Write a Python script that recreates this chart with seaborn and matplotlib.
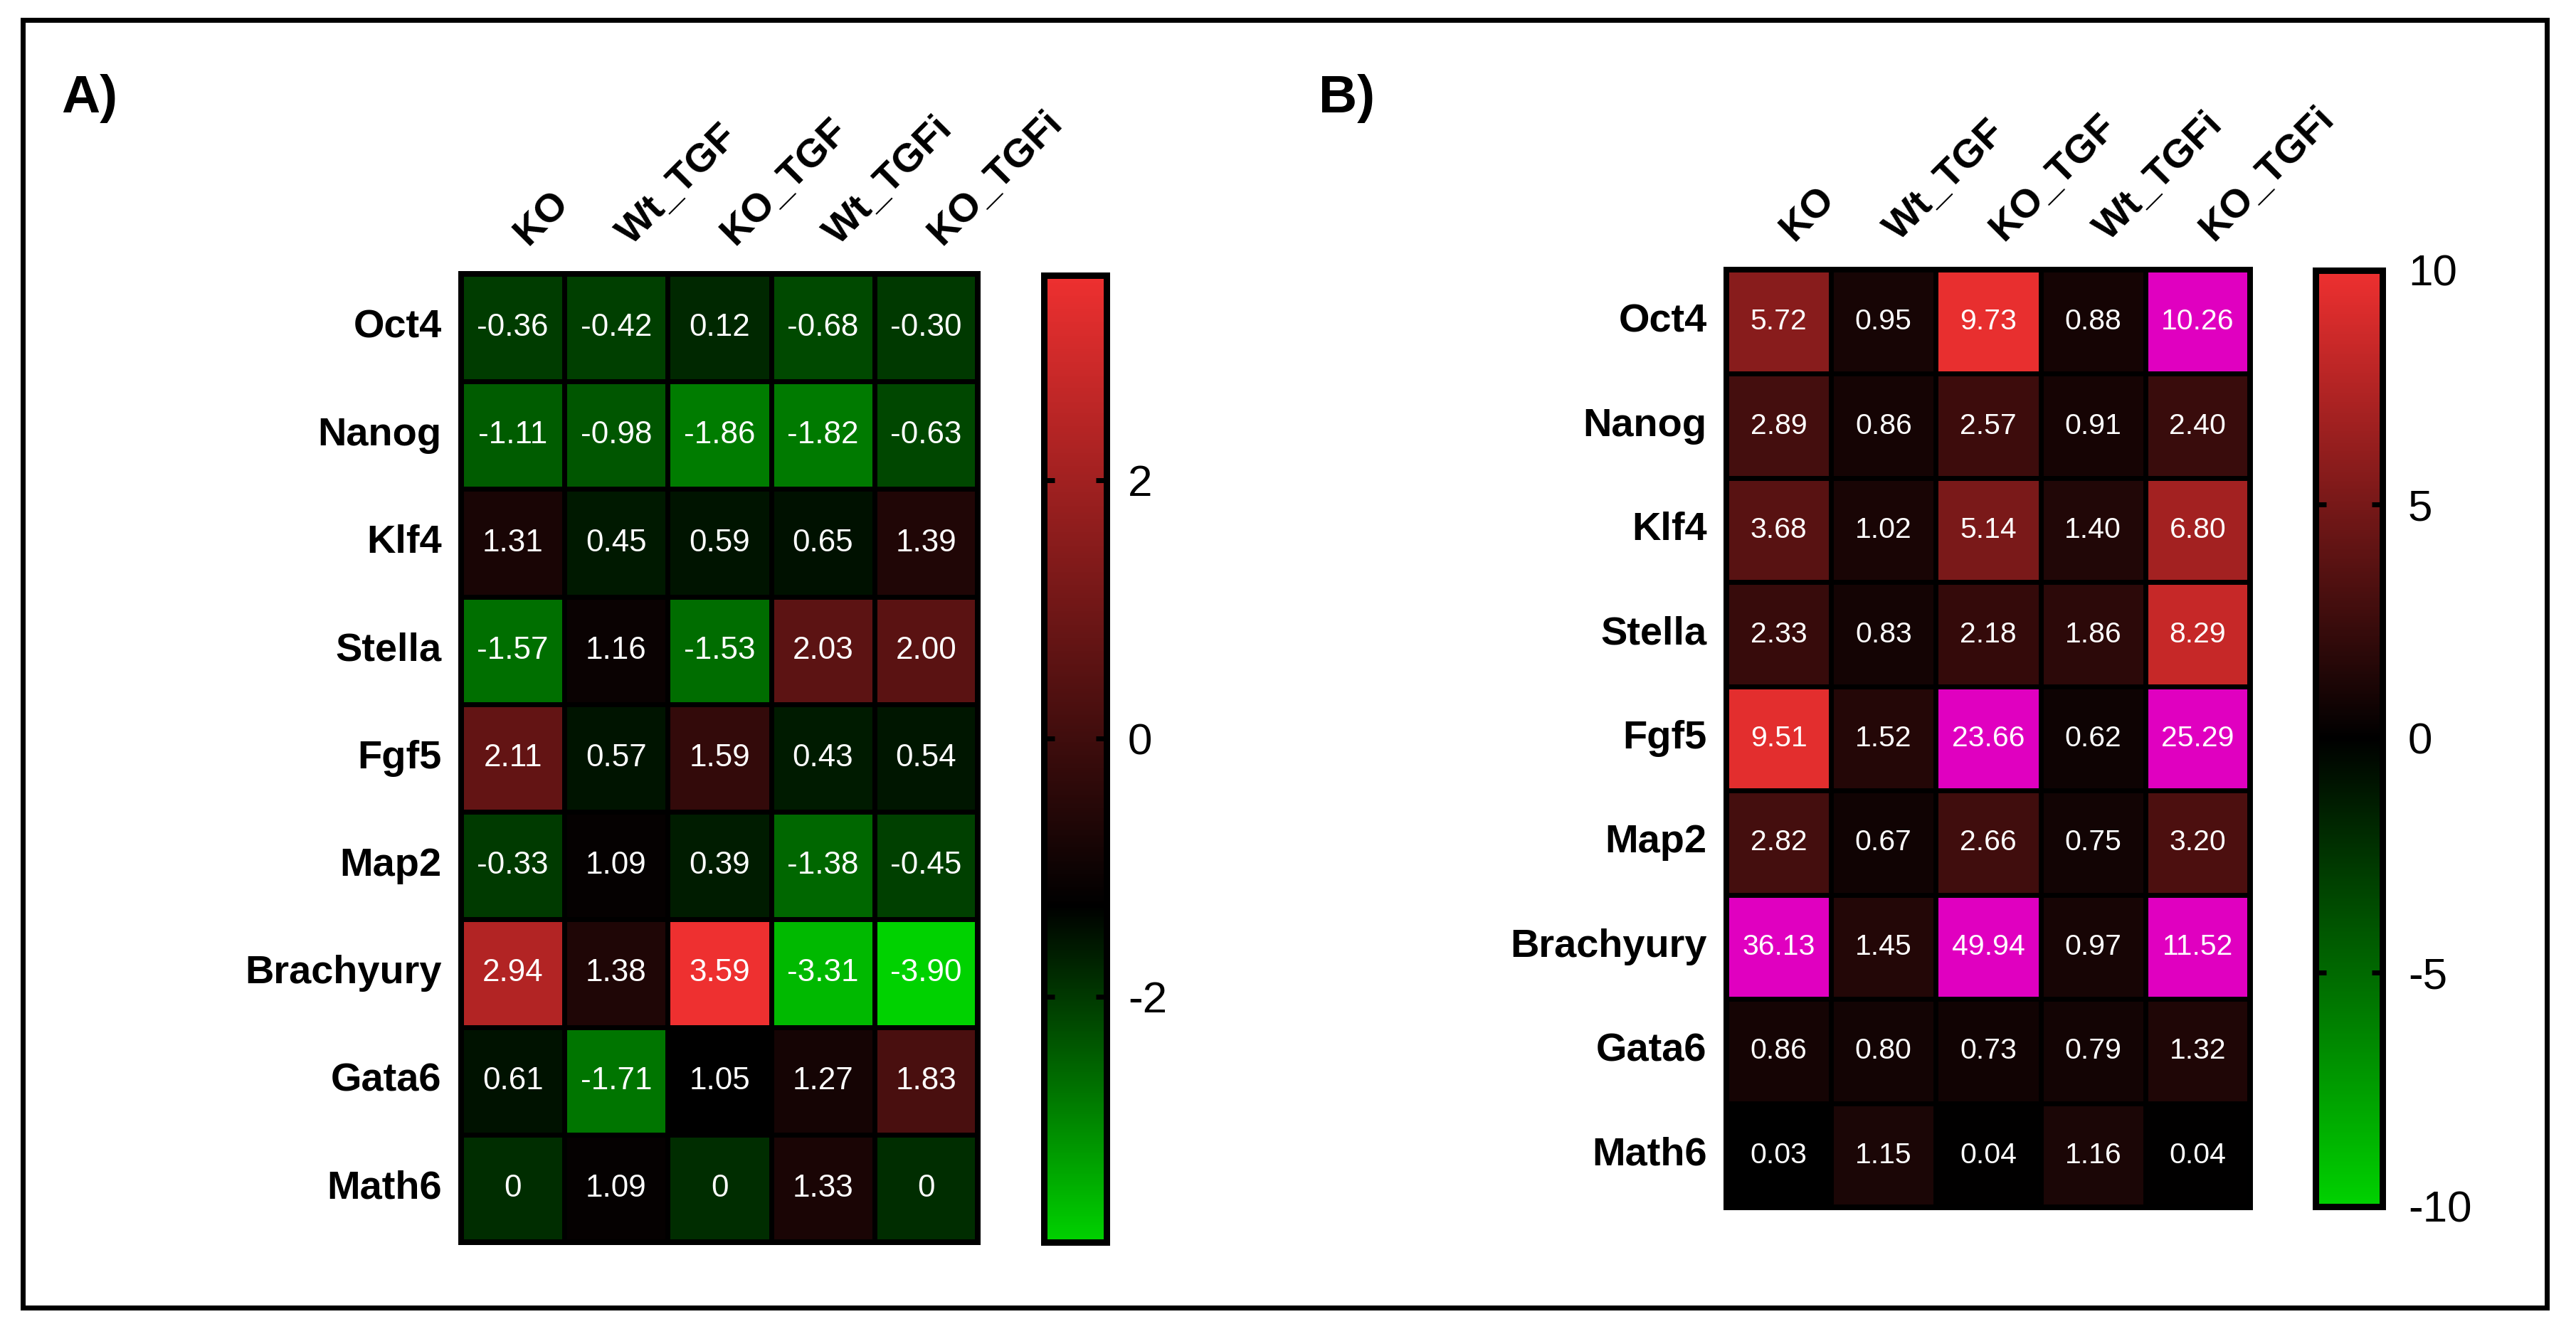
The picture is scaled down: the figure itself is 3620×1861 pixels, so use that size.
import numpy as np
import pandas as pd
import seaborn as sns
import matplotlib
matplotlib.use("Agg")
import matplotlib.pyplot as plt
from matplotlib.colors import LinearSegmentedColormap, Normalize
from matplotlib.cm import ScalarMappable
from matplotlib.patches import Rectangle
from matplotlib.transforms import ScaledTranslation

genes = ["Oct4", "Nanog", "Klf4", "Stella", "Fgf5", "Map2", "Brachyury", "Gata6", "Math6"]
conditions = ["KO", "Wt_TGF", "KO_TGF", "Wt_TGFi", "KO_TGFi"]

values_a = [
    [-0.36, -0.42, 0.12, -0.68, -0.30],
    [-1.11, -0.98, -1.86, -1.82, -0.63],
    [1.31, 0.45, 0.59, 0.65, 1.39],
    [-1.57, 1.16, -1.53, 2.03, 2.00],
    [2.11, 0.57, 1.59, 0.43, 0.54],
    [-0.33, 1.09, 0.39, -1.38, -0.45],
    [2.94, 1.38, 3.59, -3.31, -3.90],
    [0.61, -1.71, 1.05, 1.27, 1.83],
    [0, 1.09, 0, 1.33, 0],
]
values_b = [
    [5.72, 0.95, 9.73, 0.88, 10.26],
    [2.89, 0.86, 2.57, 0.91, 2.40],
    [3.68, 1.02, 5.14, 1.40, 6.80],
    [2.33, 0.83, 2.18, 1.86, 8.29],
    [9.51, 1.52, 23.66, 0.62, 25.29],
    [2.82, 0.67, 2.66, 0.75, 3.20],
    [36.13, 1.45, 49.94, 0.97, 11.52],
    [0.86, 0.80, 0.73, 0.79, 1.32],
    [0.03, 1.15, 0.04, 1.16, 0.04],
]

W, H, DPI = 3620, 1861, 100
GREEN, RED, OVER = "#00d200", "#ee3030", "#e000c0"


def px(n):
    return n * 72 / DPI


def axes_px(fig, l, t, r, b):
    return fig.add_axes([l / W, 1 - b / H, (r - l) / W, (b - t) / H])


def cmap_with_black_at(vmin, vmax, black):
    f = (black - vmin) / (vmax - vmin)
    return LinearSegmentedColormap.from_list("gkr", [(0, GREEN), (f, "#000000"), (1, RED)], N=512)


def panel(fig, values, box, cbox, vmin, vmax, cell_black, bar_black, ticks, over,
          annot_px, pad_px):
    ax = axes_px(fig, *box)
    cax = axes_px(fig, *cbox)
    frame = pd.DataFrame(values, index=genes, columns=conditions)
    labels = frame.map(lambda v: "0" if v == 0 else f"{v:.2f}")
    cmap = cmap_with_black_at(vmin, vmax, cell_black)
    if over:
        cmap.set_over(OVER)
    sns.heatmap(frame, ax=ax, cmap=cmap, vmin=vmin, vmax=vmax, cbar=False,
                annot=labels, fmt="", annot_kws={"color": "white", "fontsize": px(annot_px)},
                linewidths=px(7), linecolor="black")
    ax.xaxis.tick_top()
    ax.set_xlabel("")
    ax.set_ylabel("")
    ax.set_yticklabels(genes, rotation=0, fontsize=px(56), fontweight="bold")
    ax.set_xticklabels(conditions, rotation=45, ha="left", va="bottom", rotation_mode="anchor",
                       fontsize=px(56), fontweight="bold")
    ax.tick_params(axis="y", left=False, right=False, pad=px(19))
    ax.tick_params(axis="x", top=False, bottom=False, pad=px(22))
    shift = ScaledTranslation(30 / DPI, 0, fig.dpi_scale_trans)
    for lab in ax.get_xticklabels():
        lab.set_transform(lab.get_transform() + shift)
    for s in ax.spines.values():
        s.set_visible(True)
        s.set_color("black")
        s.set_linewidth(px(8))

    sm = ScalarMappable(norm=Normalize(vmin, vmax), cmap=cmap_with_black_at(vmin, vmax, bar_black))
    cb = fig.colorbar(sm, cax=cax, ticks=ticks)
    cb.outline.set_edgecolor("black")
    cb.outline.set_linewidth(px(9))
    cb.ax.set_axisbelow(False)
    cb.ax.yaxis.set_ticks_position("both")
    cb.ax.tick_params(axis="y", direction="in", length=px(15), width=px(7), color="black",
                      labelsize=px(62), pad=px(pad_px), labelleft=False, labelright=True)
    cb.ax.set_yticklabels([str(t) for t in ticks])


sns.set_theme(style="white")
plt.rcParams["font.family"] = ["Liberation Sans", "DejaVu Sans"]
plt.rcParams["text.color"] = "black"
plt.rcParams["xtick.color"] = "black"
plt.rcParams["ytick.color"] = "black"
plt.rcParams["axes.labelcolor"] = "black"

fig = plt.figure(figsize=(W / DPI, H / DPI), dpi=DPI, facecolor="white")
fig.add_artist(Rectangle((32 / W, 1 - 1838 / H), (3579 - 32) / W, (1838 - 28) / H,
                         transform=fig.transFigure, fill=False, edgecolor="black", linewidth=px(7)))

panel(fig, values_a, (648, 385, 1374, 1746), (1467, 387, 1555, 1746), -3.9, 3.59, 1.05, -1.3,
      [-2, 0, 2], False, 44, 30)
panel(fig, values_b, (2426, 379, 3162, 1697), (3254, 380, 3348, 1696), -10, 10, 0, 0,
      [-10, -5, 0, 5, 10], True, 41, 36)

fig.text(86 / W, 1 - 158 / H, "A)", fontsize=px(75), fontweight="bold", ha="left", va="baseline")
fig.text(1853 / W, 1 - 158 / H, "B)", fontsize=px(75), fontweight="bold", ha="left", va="baseline")

fig.savefig("out.png", dpi=DPI, facecolor="white")
